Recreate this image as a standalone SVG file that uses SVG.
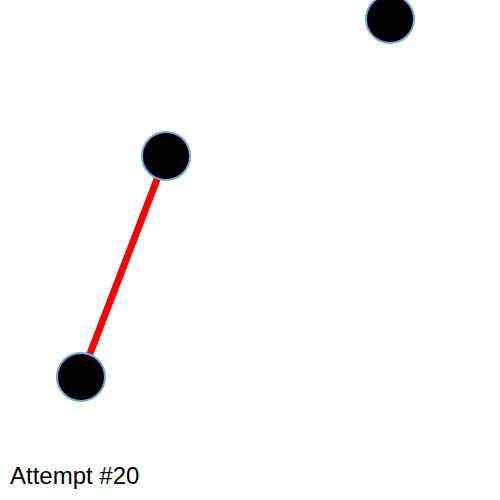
<svg xmlns="http://www.w3.org/2000/svg" width="500" height="500" viewBox="0 0 500 500">
<style>
.node{fill:#000;stroke:#6fa8dc;stroke-width:2}
.edge{stroke:#f00;stroke-width:7;fill:none}
.label{font-family:"Liberation Sans",Arial,sans-serif;font-size:24px;fill:#000}
</style>
<rect width="500" height="500" fill="#fff"/>
<g id="connectors">
<line class="edge" x1="81" y1="377" x2="166" y2="156"/>
</g>
<g id="node-a"><circle class="node" cx="390" cy="19" r="24"/></g>
<g id="node-b"><circle class="node" cx="166" cy="156" r="24"/></g>
<g id="node-c"><circle class="node" cx="81" cy="377" r="24"/></g>
<text class="label" x="10" y="484">Attempt #20</text>
</svg>
